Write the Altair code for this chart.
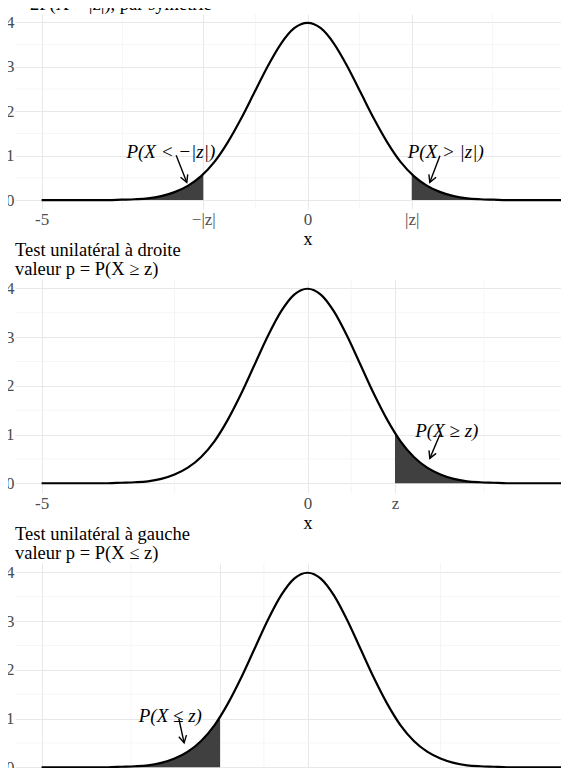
import altair as alt
import pandas as pd

# ---- data ----
X = [-5.0, -4.75, -4.5, -4.25, -4.0, -3.75, -3.5, -3.25, -3.0, -2.75, -2.5, -2.25,
     -2.0, -1.75, -1.5, -1.25, -1.0, -0.75, -0.5, -0.25, 0.0, 0.25, 0.5, 0.75,
     1.0, 1.25, 1.5, 1.75, 2.0, 2.25, 2.5, 2.75, 3.0, 3.25, 3.5, 3.75, 4.0,
     4.25, 4.5, 4.75, 5.0]
DENS = [0.0, 0.0, 0.0, 0.0, 0.0, 0.0, 0.01, 0.02, 0.04, 0.09, 0.18, 0.32,
        0.54, 0.86, 1.30, 1.83, 2.42, 3.01, 3.52, 3.87, 3.99, 3.87, 3.52, 3.01,
        2.42, 1.83, 1.30, 0.86, 0.54, 0.32, 0.18, 0.09, 0.04, 0.02, 0.01, 0.0, 0.0,
        0.0, 0.0, 0.0, 0.0]

TITLES = [
    ["Test bilatéral", "valeur p = P(X < −|z|) + P(X > |z|)", "= 2P(X > |z|), par symétrie"],
    ["Test unilatéral à droite", "valeur p = P(X ≥ z)"],
    ["Test unilatéral à gauche", "valeur p = P(X ≤ z)"],
]
BREAKS = [[-5, -1.96, 0, 1.96, 5], [-5, 0, 1.645, 5], [-5, -1.645, 0, 5]]
BREAK_LABELS = [["-5", "−|z|", "0", "|z|", "5"], ["-5", "0", "z", "5"], ["-5", "z", "0", "5"]]
MINOR_X = [[-3.48, -0.98, 0.98, 3.48], [-2.5, 0.82, 3.32], [-3.32, -0.82, 2.5]]
Y_BREAKS = [0, 1, 2, 3, 4]
MINOR_Y = [0.5, 1.5, 2.5, 3.5]

# shaded tails: panel, side, cut point, curve height at cut
TAIL_PANEL = [0, 0, 1, 2]
TAIL_SIDE = ["left", "right", "right", "left"]
TAIL_CUT = [-1.96, 1.96, 1.645, -1.645]
TAIL_CUT_Y = [0.58, 0.58, 1.03, 1.03]

NOTE_PANEL = [0, 0, 1, 2]
NOTE_TEXT = ["P(X < −|z|)", "P(X > |z|)", "P(X ≥ z)", "P(X ≤ z)"]
NOTE_X = [-2.57, 2.6, 2.62, -2.58]
NOTE_Y = [1.08, 1.08, 1.07, 1.06]
ARROW_X = [-2.47, 2.49, 2.49, -2.42]
ARROW_Y = [1.01, 1.0, 1.0, 1.0]
ARROW_XEND = [-2.27, 2.30, 2.30, -2.32]
ARROW_YEND = [0.40, 0.40, 0.51, 0.50]
ARROW_ANGLE = [338, 22, 23, 348]

HEIGHTS = [195, 214, 214]
WIDTH = 585
FONT = "Liberation Serif"

curve = pd.DataFrame({"x": X, "y": DENS})
x_scale = alt.Scale(domain=[-5.5, 5.5], nice=False, zero=False)
y_scale = alt.Scale(domain=[-0.2, 4.19], nice=False, zero=False)


def label_expr(breaks, labels):
    expr = "''"
    for b, l in zip(reversed(breaks), reversed(labels)):
        expr = f"abs(datum.value - ({b})) < 1e-6 ? '{l}' : " + expr
    return expr


def panel(i):
    xaxis = alt.Axis(values=BREAKS[i], labelExpr=label_expr(BREAKS[i], BREAK_LABELS[i]),
                     title="x", grid=True, gridColor="#e8e8e8", gridWidth=1,
                     domain=False, ticks=False, labelPadding=2, titlePadding=3,
                     labelFont=FONT, labelFontSize=17, labelColor="#4d4d4d",
                     titleFont=FONT, titleFontSize=18, titleFontWeight="normal",
                     titleColor="black", labelFlush=False,
                     labelFontStyle={"condition": {"test": "indexof(datum.label, '|') >= 0",
                                                   "value": "italic"}, "value": "normal"})
    yaxis = alt.Axis(values=Y_BREAKS, title=None, grid=True, gridColor="#e8e8e8", gridWidth=1,
                     domain=False, ticks=False, labelPadding=1, labelFont=FONT,
                     labelFontSize=17, labelColor="#4d4d4d", labelFlush=False)
    X_ = lambda f: alt.X(f, scale=x_scale, axis=xaxis)
    Y_ = lambda f: alt.Y(f, scale=y_scale, axis=yaxis)

    mx = alt.Chart(pd.DataFrame({"x": MINOR_X[i]})).mark_rule(
        color="#f0f0f0", strokeWidth=0.7).encode(x=X_("x:Q"))
    my = alt.Chart(pd.DataFrame({"y": MINOR_Y})).mark_rule(
        color="#f0f0f0", strokeWidth=0.7).encode(y=Y_("y:Q"))

    layers = [mx, my]
    for k in range(len(TAIL_PANEL)):
        if TAIL_PANEL[k] != i:
            continue
        if TAIL_SIDE[k] == "left":
            sub = curve[curve.x < TAIL_CUT[k]]
            tail = pd.concat([sub, pd.DataFrame({"x": [TAIL_CUT[k]], "y": [TAIL_CUT_Y[k]]})])
        else:
            sub = curve[curve.x > TAIL_CUT[k]]
            tail = pd.concat([pd.DataFrame({"x": [TAIL_CUT[k]], "y": [TAIL_CUT_Y[k]]}), sub])
        layers.append(alt.Chart(tail).mark_area(color="#404040", interpolate="monotone").encode(
            x=X_("x:Q"), y=Y_("y:Q"), y2=alt.datum(0)))

    layers.append(alt.Chart(curve).mark_line(color="black", strokeWidth=2.2,
                                             interpolate="monotone").encode(
        x=X_("x:Q"), y=Y_("y:Q")))

    idx = [k for k in range(len(NOTE_PANEL)) if NOTE_PANEL[k] == i]
    notes = pd.DataFrame({
        "t": [NOTE_TEXT[k] for k in idx], "x": [NOTE_X[k] for k in idx],
        "y": [NOTE_Y[k] for k in idx], "ax": [ARROW_X[k] for k in idx],
        "ay": [ARROW_Y[k] for k in idx], "bx": [ARROW_XEND[k] for k in idx],
        "by": [ARROW_YEND[k] for k in idx], "ang": [ARROW_ANGLE[k] for k in idx]})
    layers.append(alt.Chart(notes).mark_text(font=FONT, fontSize=19, fontStyle="italic",
                                             color="black", baseline="middle").encode(
        x=X_("x:Q"), y=Y_("y:Q"), text="t:N"))
    layers.append(alt.Chart(notes).mark_rule(color="black", strokeWidth=1.4).encode(
        x=X_("ax:Q"), y=Y_("ay:Q"), x2="bx:Q", y2="by:Q"))
    layers.append(alt.Chart(notes).mark_point(
        shape="M -0.55 -1 L 0 0 L 0.55 -1", size=200, filled=False, stroke="black",
        strokeWidth=1.4, opacity=1).encode(
        x=X_("bx:Q"), y=Y_("by:Q"), angle=alt.Angle("ang:Q", scale=None)))

    return alt.layer(*layers).properties(
        width=WIDTH, height=HEIGHTS[i],
        title=alt.TitleParams(text=TITLES[i], anchor="start", frame="group", font=FONT,
                              fontSize=18.5, fontWeight="normal", color="black",
                              lineHeight=19, offset=0))


chart = alt.vconcat(panel(0), panel(1), panel(2), spacing=-7).properties(
    padding={"left": -3, "top": -52, "right": -40, "bottom": -40}
).configure_view(stroke=None)

chart.save("out.html", embed_options={"renderer": "svg", "actions": False})
